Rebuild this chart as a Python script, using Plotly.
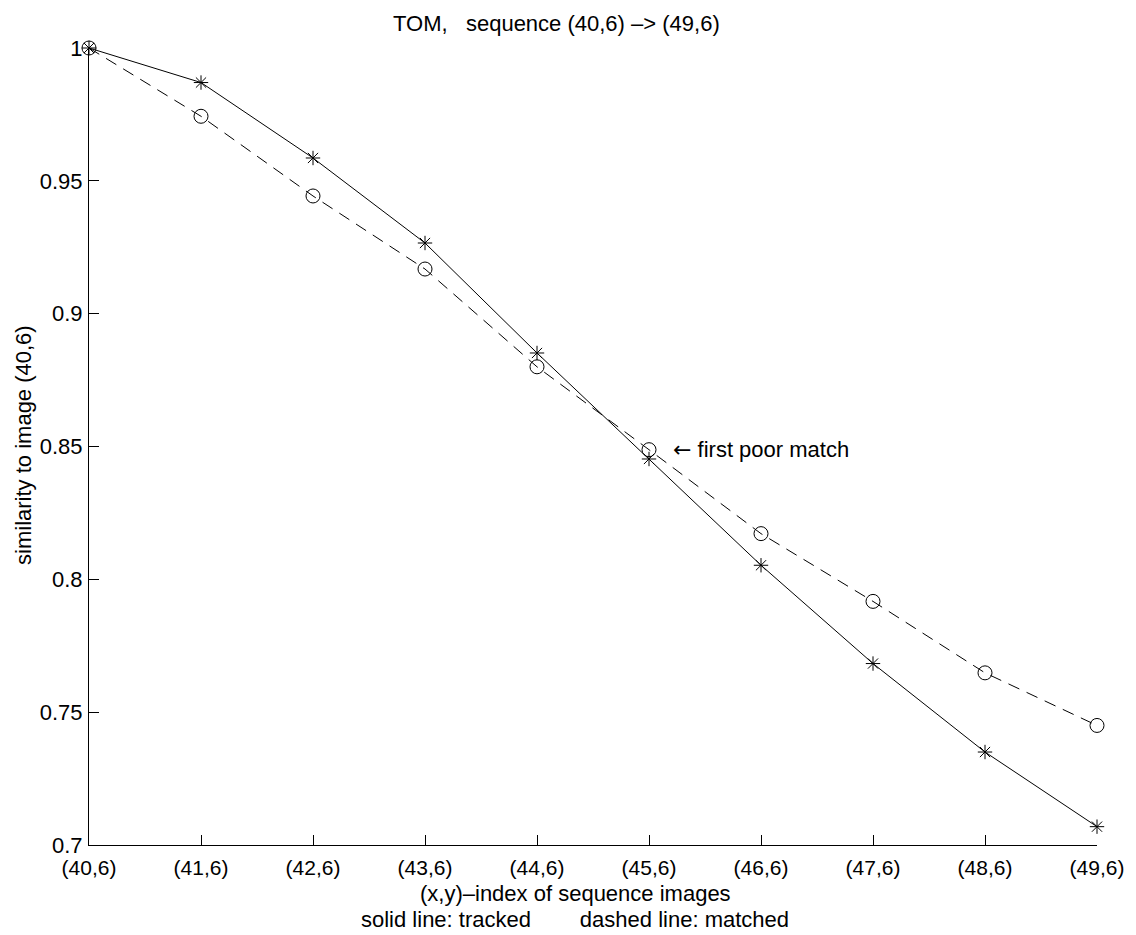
import plotly.graph_objects as go

categories = ["(40,6)", "(41,6)", "(42,6)", "(43,6)", "(44,6)",
              "(45,6)", "(46,6)", "(47,6)", "(48,6)", "(49,6)"]
tracked = [1.0, 0.987, 0.9586, 0.9266, 0.8852, 0.8453, 0.8053, 0.7683, 0.735, 0.7069]
matched = [1.0, 0.9743, 0.9443, 0.9168, 0.880, 0.8488, 0.8172, 0.7917, 0.7648, 0.745]
y_ticks = [0.7, 0.75, 0.8, 0.85, 0.9, 0.95, 1.0]
y_ticktext = ["0.7", "0.75", "0.8", "0.85", "0.9", "0.95", "1"]

FONT = "Liberation Sans, Arial, Helvetica, DejaVu Sans, sans-serif"
FS = 22
NB = "\u00a0"

x_idx = list(range(len(categories)))

fig = go.Figure()
fig.add_trace(go.Scatter(
    x=x_idx, y=tracked, mode="lines+markers",
    line=dict(color="black", width=1),
    marker=dict(symbol="asterisk-open", size=12, color="black",
                line=dict(color="black", width=1)),
    cliponaxis=False, showlegend=False))
fig.add_trace(go.Scatter(
    x=x_idx, y=matched, mode="lines+markers",
    line=dict(color="black", width=1, dash="12px,8px"),
    marker=dict(symbol="circle-open", size=14, color="black",
                line=dict(color="black", width=1)),
    cliponaxis=False, showlegend=False))

W, H = 1136, 935
L, R, T, B = 88.5, 1101, 47.7, 845
pw, ph = R - L, B - T

def px(x):
    return (x - L) / pw

def py(y):
    return (B - y) / ph

fig.update_layout(
    width=W, height=H,
    margin=dict(l=L, r=W - R, t=T, b=H - B, pad=0),
    paper_bgcolor="white", plot_bgcolor="white",
    font=dict(family=FONT, size=FS, color="black"),
    xaxis=dict(range=[0, len(categories) - 1], tickmode="array",
               tickvals=x_idx, ticktext=categories,
               tickfont=dict(size=21),
               ticks="inside", ticklen=10, tickwidth=1, tickcolor="black",
               showline=True, linecolor="black", linewidth=1,
               showgrid=False, zeroline=False, ticklabelstandoff=4),
    yaxis=dict(range=[0.7, 1.0], tickmode="array",
               tickvals=y_ticks, ticktext=y_ticktext,
               ticks="inside", ticklen=10, tickwidth=1, tickcolor="black",
               showline=True, linecolor="black", linewidth=1,
               showgrid=False, zeroline=False, ticklabelstandoff=1),
)

annotations = [
    dict(text="TOM," + NB * 3 + "sequence (40,6) \u2013> (49,6)",
         x=px(558), y=py(22.7), xref="paper", yref="paper",
         xanchor="center", yanchor="middle", showarrow=False),
    dict(text="(x,y)\u2013index of sequence images",
         x=px(577), y=py(894), xref="paper", yref="paper",
         xanchor="center", yanchor="middle", showarrow=False),
    dict(text="solid line: tracked" + NB * 8 + "dashed line: matched",
         x=px(577), y=py(920), xref="paper", yref="paper",
         xanchor="center", yanchor="middle", showarrow=False),
    dict(text="similarity to image (40,6)", textangle=-90,
         x=px(22), y=py(445), xref="paper", yref="paper",
         xanchor="center", yanchor="middle", showarrow=False),
    dict(text="<span style=\"font-family:'DejaVu Sans'\">\u2190</span> first poor match",
         x=5.2, y=matched[5], xref="x", yref="y",
         xanchor="left", yanchor="middle", showarrow=False),
]
fig.update_layout(annotations=annotations)

fig.write_html("out.html")
